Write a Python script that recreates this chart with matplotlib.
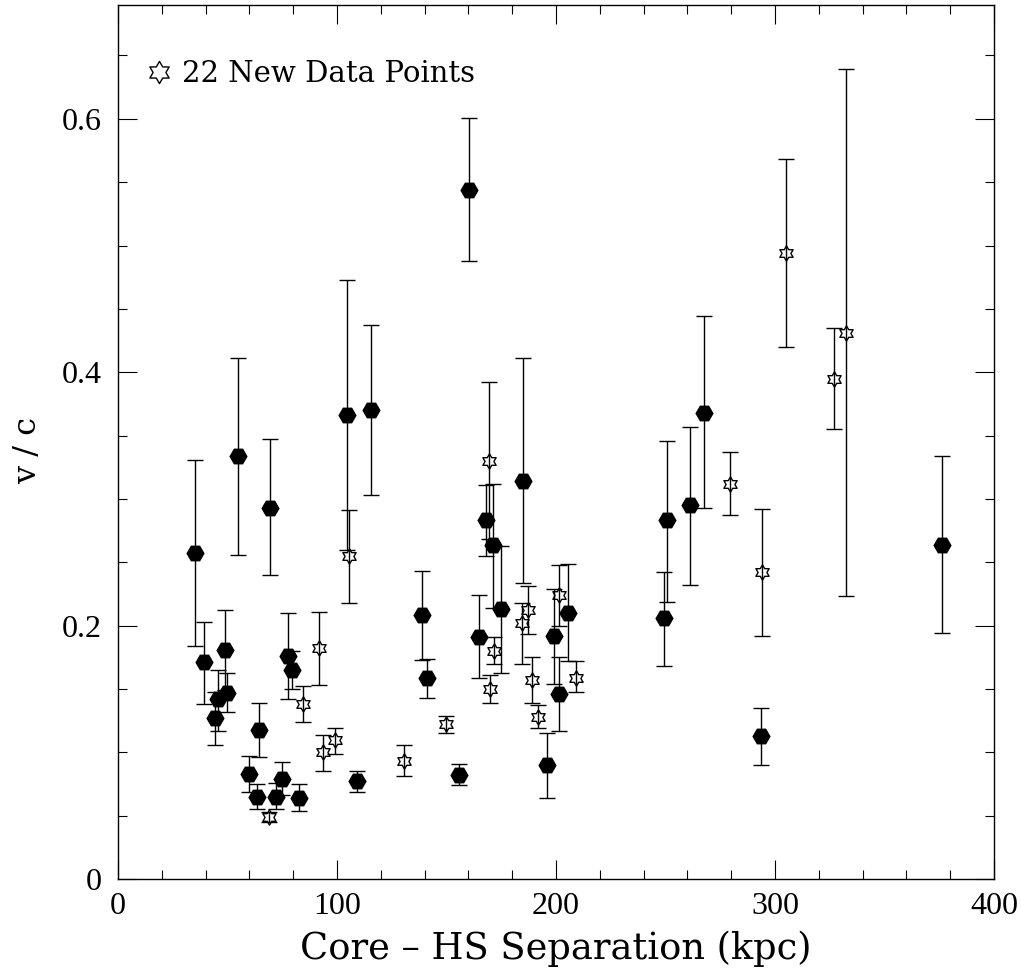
import matplotlib.pyplot as plt
from matplotlib.path import Path
from matplotlib.lines import Line2D
from matplotlib.ticker import MultipleLocator, FuncFormatter

# earlier hot spots (filled symbols): separation (kpc), v/c, upper and lower error ends
old_sep = [35.2, 39.3, 44.3, 45.8, 49.0, 49.9, 54.7, 60.0, 63.5, 64.4,
           69.4, 72.1, 74.7, 77.5, 79.3, 82.8, 104.4, 109.1, 115.4, 138.9,
           141.0, 155.6, 160.1, 165.0, 167.9, 171.4, 174.7, 184.8, 195.8, 199.2,
           201.4, 205.5, 249.5, 250.8, 261.2, 267.4, 293.7, 376.3]
old_v = [0.257, 0.171, 0.127, 0.142, 0.181, 0.147, 0.334, 0.083, 0.065, 0.118,
         0.293, 0.065, 0.079, 0.176, 0.165, 0.064, 0.366, 0.077, 0.370, 0.208,
         0.159, 0.082, 0.544, 0.191, 0.283, 0.264, 0.213, 0.314, 0.090, 0.192,
         0.146, 0.210, 0.206, 0.283, 0.295, 0.368, 0.113, 0.264]
old_hi = [0.331, 0.203, 0.148, 0.165, 0.212, 0.163, 0.411, 0.097, 0.075, 0.139,
          0.347, 0.076, 0.092, 0.210, 0.180, 0.075, 0.473, 0.085, 0.437, 0.243,
          0.174, 0.091, 0.601, 0.224, 0.311, 0.312, 0.263, 0.411, 0.115, 0.229,
          0.175, 0.249, 0.242, 0.346, 0.357, 0.444, 0.135, 0.334]
old_lo = [0.184, 0.138, 0.106, 0.117, 0.149, 0.132, 0.256, 0.069, 0.055, 0.096,
          0.240, 0.055, 0.066, 0.142, 0.150, 0.054, 0.260, 0.069, 0.303, 0.173,
          0.143, 0.074, 0.488, 0.159, 0.255, 0.214, 0.163, 0.234, 0.064, 0.154,
          0.117, 0.172, 0.168, 0.219, 0.232, 0.293, 0.090, 0.194]

# the 22 new points (open stars)
new_sep = [69.1, 84.6, 91.9, 93.5, 98.9, 105.6, 130.7, 149.6, 169.3, 169.9, 171.7,
           184.6, 187.1, 189.2, 191.8, 201.5, 209.0, 279.3, 294.1, 305.0, 326.8, 332.3]
new_v = [0.049, 0.138, 0.182, 0.100, 0.110, 0.255, 0.093, 0.122, 0.330, 0.150, 0.180,
         0.202, 0.2125, 0.157, 0.128, 0.224, 0.159, 0.312, 0.242, 0.494, 0.395, 0.431]
new_hi = [0.053, 0.152, 0.211, 0.114, 0.119, 0.291, 0.106, 0.129, 0.392, 0.161, 0.191,
          0.218, 0.231, 0.175, 0.137, 0.248, 0.172, 0.337, 0.292, 0.568, 0.435, 0.639]
new_lo = [0.045, 0.124, 0.153, 0.085, 0.099, 0.218, 0.081, 0.115, 0.268, 0.139, 0.170,
          0.170, 0.193, 0.139, 0.119, 0.200, 0.148, 0.287, 0.192, 0.420, 0.355, 0.223]

plt.rcParams['font.family'] = ['Liberation Serif', 'DejaVu Serif']
wide = ['DejaVu Serif']

fig = plt.figure(figsize=(10.21, 9.74), dpi=100)
ax = fig.add_axes([0.1156, 0.0975, 0.858, 0.8976])

star = Path.unit_regular_star(6, 0.577)


def draw(sep, v, hi, lo, marker, ms, fc):
    down = [a - b for a, b in zip(v, lo)]
    up = [b - a for a, b in zip(v, hi)]
    ax.errorbar(sep, v, yerr=[down, up], fmt='none', ecolor='black',
                elinewidth=1, capsize=5.5, capthick=1, zorder=2)
    ax.plot(sep, v, ls='none', marker=marker, ms=ms, mfc=fc, mec='black',
            mew=1, zorder=3)


draw(old_sep, old_v, old_hi, old_lo, 'H', 12, 'black')
draw(new_sep, new_v, new_hi, new_lo, star, 11, 'none')

ax.set_xlim(0, 400)
ax.set_ylim(0, 0.69)
ax.xaxis.set_major_locator(MultipleLocator(100))
ax.xaxis.set_minor_locator(MultipleLocator(20))
ax.yaxis.set_major_locator(MultipleLocator(0.2))
ax.yaxis.set_minor_locator(MultipleLocator(0.05))
ax.yaxis.set_major_formatter(FuncFormatter(lambda v, p: '0' if abs(v) < 1e-9 else f'{v:.1f}'))
ax.tick_params(which='both', direction='in', top=True, right=True, width=0.8,
               labelsize=23)
ax.tick_params(which='major', length=13.5)
ax.tick_params(which='minor', length=6.5)
ax.tick_params(axis='x', pad=9)
ax.tick_params(axis='y', pad=12)
for s in ax.spines.values():
    s.set_linewidth(1)

ax.set_xlabel('Core – HS Separation (kpc)', fontsize=26.5, family=wide, labelpad=7)
ax.set_ylabel('v / c', fontsize=23, family=wide)
ax.yaxis.set_label_coords(-0.085, 0.49)

handle = Line2D([], [], ls='none', marker=star, ms=16, mfc='none', mec='black', mew=1)
ax.legend([handle], ['22 New Data Points'], loc='upper left', frameon=False,
          bbox_to_anchor=(0.03, 0.937), borderaxespad=0, borderpad=0,
          handlelength=1.0, handletextpad=0.3, prop={'family': wide, 'size': 21})

fig.savefig('out.png', dpi=100)
